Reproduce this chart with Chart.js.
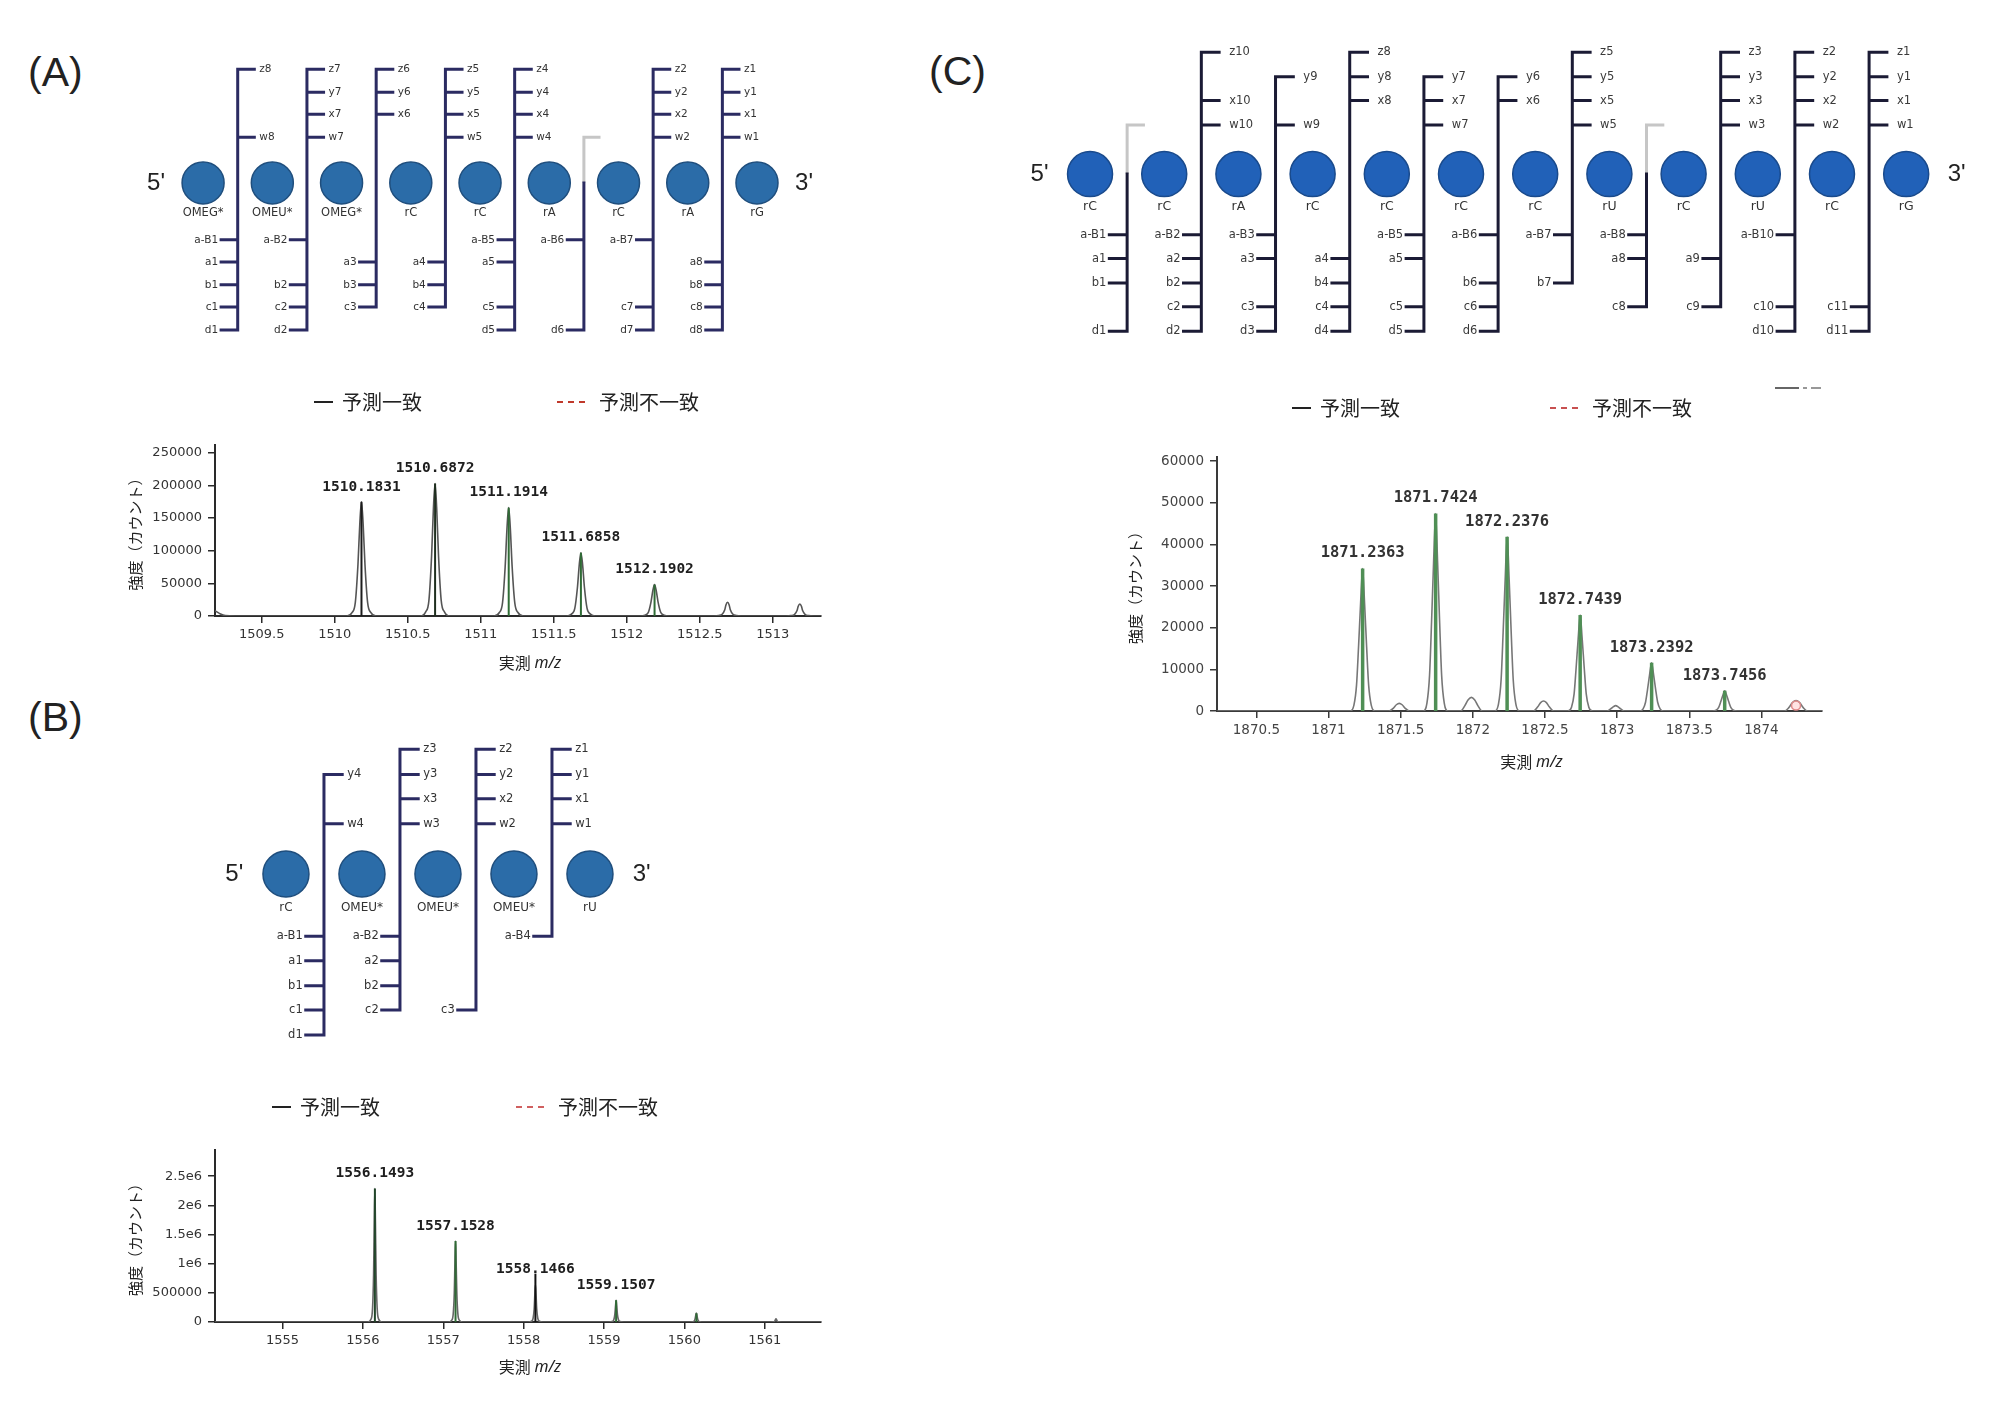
<!DOCTYPE html>
<html>
<head>
<meta charset="utf-8">
<script src="https://cdn.jsdelivr.net/npm/chart.js@4.4.1/dist/chart.umd.min.js"></script>
<style>
  body { margin: 0; background: #fff; width: 2000px; height: 1417px; position: relative; overflow: hidden; }
  canvas { position: absolute; }
  .tag { position: absolute; font: 41px 'Liberation Sans', Arial, sans-serif; color: #222; line-height: 41px; }
</style>
</head>
<body>
<div class="tag" style="left:28px;top:52px">(A)</div>
<div class="tag" style="left:28px;top:697px">(B)</div>
<div class="tag" style="left:929px;top:51px">(C)</div>

<canvas id="mapA" width="727" height="305" style="left:120px;top:45px"></canvas>
<canvas id="specA" width="730" height="300" style="left:100px;top:380px"></canvas>
<canvas id="mapB" width="494" height="334" style="left:195px;top:722px"></canvas>
<canvas id="specB" width="730" height="300" style="left:100px;top:1085px"></canvas>
<canvas id="mapC" width="994" height="326" style="left:1001px;top:26px"></canvas>
<canvas id="specC" width="730" height="400" style="left:1100px;top:385px"></canvas>

<script>
// ---- Fragment maps ----
const residuesA = ['OMEG*', 'OMEU*', 'OMEG*', 'rC', 'rC', 'rA', 'rC', 'rA', 'rG'];
const topIonsA = [['z8', 'w8'], ['z7', 'y7', 'x7', 'w7'], ['z6', 'y6', 'x6'], ['z5', 'y5', 'x5', 'w5'],
  ['z4', 'y4', 'x4', 'w4'], [], ['z2', 'y2', 'x2', 'w2'], ['z1', 'y1', 'x1', 'w1']];
const bottomIonsA = [['a-B1', 'a1', 'b1', 'c1', 'd1'], ['a-B2', 'b2', 'c2', 'd2'], ['a3', 'b3', 'c3'], ['a4', 'b4', 'c4'],
  ['a-B5', 'a5', 'c5', 'd5'], ['a-B6', 'd6'], ['a-B7', 'c7', 'd7'], ['a8', 'b8', 'c8', 'd8']];

const residuesB = ['rC', 'OMEU*', 'OMEU*', 'OMEU*', 'rU'];
const topIonsB = [['y4', 'w4'], ['z3', 'y3', 'x3', 'w3'], ['z2', 'y2', 'x2', 'w2'], ['z1', 'y1', 'x1', 'w1']];
const bottomIonsB = [['a-B1', 'a1', 'b1', 'c1', 'd1'], ['a-B2', 'a2', 'b2', 'c2'], ['c3'], ['a-B4']];

const residuesC = ['rC', 'rC', 'rA', 'rC', 'rC', 'rC', 'rC', 'rU', 'rC', 'rU', 'rC', 'rG'];
const topIonsC = [[], ['z10', 'x10', 'w10'], ['y9', 'w9'], ['z8', 'y8', 'x8'], ['y7', 'x7', 'w7'], ['y6', 'x6'],
  ['z5', 'y5', 'x5', 'w5'], [], ['z3', 'y3', 'x3', 'w3'], ['z2', 'y2', 'x2', 'w2'], ['z1', 'y1', 'x1', 'w1']];
const bottomIonsC = [['a-B1', 'a1', 'b1', 'd1'], ['a-B2', 'a2', 'b2', 'c2', 'd2'], ['a-B3', 'a3', 'c3', 'd3'],
  ['a4', 'b4', 'c4', 'd4'], ['a-B5', 'a5', 'c5', 'd5'], ['a-B6', 'b6', 'c6', 'd6'], ['a-B7', 'b7'],
  ['a-B8', 'a8', 'c8'], ['a9', 'c9'], ['a-B10', 'c10', 'd10'], ['c11', 'd11']];

// ---- Spectra ----
const legendText = ['予測一致', '予測不一致'];
const xTitle = ['実測 ', 'm/z'];
const yTitle = '強度（カウント）';

const xTicksA = [1509.5, 1510, 1510.5, 1511, 1511.5, 1512, 1512.5, 1513];
const yTicksA = [0, 50000, 100000, 150000, 200000, 250000];
const peakLabelsA = ['1510.1831', '1510.6872', '1511.1914', '1511.6858', '1512.1902'];
const peakTopsA = [175000, 203000, 166000, 97000, 48000];
const stickMzA = [1510.1831, 1510.6872, 1511.1914, 1511.6858, 1512.1902];
const stickHA = [175000, 203000, 166000, 97000, 48000];
const stickColorA = ['#1c1c1c', '#1f2f1f', '#2f6b35', '#2f6b35', '#2f6b35'];
const profileA = [
  [1509.18, 8000], [1509.21, 4000], [1509.25, 600], [1509.32, 0],
  [1510.083, 0], [1510.118, 5000], [1510.141, 21000], [1510.159, 79000], [1510.172, 143000], [1510.183, 175000], [1510.194, 143000], [1510.207, 79000], [1510.225, 21000], [1510.248, 5000], [1510.283, 0],
  [1510.587, 0], [1510.622, 6000], [1510.645, 24000], [1510.663, 91000], [1510.676, 166000], [1510.687, 203000], [1510.698, 166000], [1510.711, 91000], [1510.729, 24000], [1510.752, 6000], [1510.787, 0],
  [1511.091, 0], [1511.126, 5000], [1511.149, 20000], [1511.167, 75000], [1511.180, 136000], [1511.191, 166000], [1511.202, 136000], [1511.215, 75000], [1511.233, 20000], [1511.256, 5000], [1511.291, 0],
  [1511.586, 0], [1511.621, 2900], [1511.644, 11600], [1511.662, 43600], [1511.675, 79500], [1511.686, 97000], [1511.697, 79500], [1511.710, 43600], [1511.728, 11600], [1511.751, 2900], [1511.786, 0],
  [1512.090, 0], [1512.125, 1400], [1512.148, 5800], [1512.166, 21600], [1512.179, 39400], [1512.190, 48000], [1512.201, 39400], [1512.214, 21600], [1512.232, 5800], [1512.255, 1400], [1512.290, 0],
  [1512.595, 0], [1512.630, 700], [1512.653, 2600], [1512.671, 9500], [1512.679, 17000], [1512.690, 21000], [1512.701, 17000], [1512.709, 9500], [1512.727, 2600], [1512.750, 700], [1512.785, 0],
  [1513.090, 0], [1513.125, 600], [1513.148, 2200], [1513.166, 8300], [1513.174, 15000], [1513.185, 18500], [1513.196, 15000], [1513.204, 8300], [1513.222, 2200], [1513.245, 600], [1513.280, 0],
  [1513.33, 0]
];

const xTicksB = [1555, 1556, 1557, 1558, 1559, 1560, 1561];
const yTicksB = [0, 500000, 1000000, 1500000, 2000000, 2500000];
const yTickTextB = ['0', '500000', '1e6', '1.5e6', '2e6', '2.5e6'];
const peakLabelsB = ['1556.1493', '1557.1528', '1558.1466', '1559.1507'];
const peakTopsB = [2290000, 1390000, 640000, 374000];
const stickMzB = [1556.1493, 1557.1528, 1558.1466, 1559.1507, 1560.15];
const stickHB = [2290000, 1390000, 830000, 374000, 150000];
const stickColorB = ['#22462a', '#2f6b35', '#111111', '#2f6b35', '#2f6b35'];
const profileB = [
  [1554.16, 0],
  [1556.06, 0], [1556.10, 46000], [1556.12, 230000], [1556.133, 800000], [1556.142, 1720000], [1556.149, 2290000], [1556.156, 1720000], [1556.165, 800000], [1556.178, 230000], [1556.198, 46000], [1556.24, 0],
  [1557.064, 0], [1557.104, 28000], [1557.124, 140000], [1557.137, 490000], [1557.146, 1040000], [1557.153, 1390000], [1557.160, 1040000], [1557.169, 490000], [1557.182, 140000], [1557.202, 28000], [1557.244, 0],
  [1558.058, 0], [1558.098, 13000], [1558.118, 64000], [1558.131, 224000], [1558.140, 480000], [1558.147, 640000], [1558.154, 480000], [1558.163, 224000], [1558.176, 64000], [1558.196, 13000], [1558.238, 0],
  [1559.062, 0], [1559.102, 7500], [1559.122, 37000], [1559.135, 131000], [1559.144, 280000], [1559.151, 374000], [1559.158, 280000], [1559.167, 131000], [1559.180, 37000], [1559.200, 7500], [1559.242, 0],
  [1560.06, 0], [1560.10, 3000], [1560.12, 15000], [1560.133, 54000], [1560.142, 116000], [1560.149, 155000], [1560.156, 116000], [1560.165, 54000], [1560.178, 15000], [1560.198, 3000], [1560.24, 0],
  [1561.07, 0], [1561.11, 3000], [1561.125, 15000], [1561.135, 45000], [1561.14, 57000], [1561.145, 45000], [1561.155, 15000], [1561.17, 3000], [1561.21, 0],
  [1561.7, 0]
];

const xTicksC = [1870.5, 1871, 1871.5, 1872, 1872.5, 1873, 1873.5, 1874];
const yTicksC = [0, 10000, 20000, 30000, 40000, 50000, 60000];
const peakLabelsC = ['1871.2363', '1871.7424', '1872.2376', '1872.7439', '1873.2392', '1873.7456'];
const peakTopsC = [34240, 47440, 41840, 23040, 11600, 4880];
const stickMzC = [1871.2363, 1871.7424, 1872.2376, 1872.7439, 1873.2392, 1873.7456];
const stickHC = [34240, 47440, 41840, 23040, 11600, 4880];
const stickColorC = ['#4f8f55', '#4f8f55', '#4f8f55', '#4f8f55', '#4f8f55', '#4f8f55'];
const mismatchC = [[1874.24, 1300]];
const profileC = [
  [1870.23, 0],
  [1871.151, 0], [1871.176, 1400], [1871.194, 6200], [1871.208, 15400], [1871.222, 25700], [1871.236, 34240], [1871.250, 25700], [1871.264, 15400], [1871.278, 6200], [1871.296, 1400], [1871.321, 0],
  [1871.42, 0], [1871.45, 700], [1871.47, 1500], [1871.49, 1840], [1871.51, 1500], [1871.53, 700], [1871.56, 0],
  [1871.657, 0], [1871.682, 1900], [1871.700, 8500], [1871.714, 21300], [1871.728, 35600], [1871.742, 47440], [1871.756, 35600], [1871.770, 21300], [1871.784, 8500], [1871.802, 1900], [1871.827, 0],
  [1871.915, 0], [1871.945, 1300], [1871.968, 2700], [1871.99, 3280], [1872.012, 2700], [1872.035, 1300], [1872.065, 0],
  [1872.153, 0], [1872.178, 1700], [1872.196, 7500], [1872.210, 18800], [1872.224, 31400], [1872.238, 41840], [1872.252, 31400], [1872.266, 18800], [1872.280, 7500], [1872.298, 1700], [1872.323, 0],
  [1872.42, 0], [1872.45, 1000], [1872.47, 2000], [1872.49, 2400], [1872.51, 2000], [1872.53, 1000], [1872.56, 0],
  [1872.659, 0], [1872.684, 900], [1872.702, 4100], [1872.716, 10400], [1872.730, 17300], [1872.744, 23040], [1872.758, 17300], [1872.772, 10400], [1872.786, 4100], [1872.804, 900], [1872.829, 0],
  [1872.93, 0], [1872.955, 500], [1872.975, 1050], [1872.99, 1280], [1873.005, 1050], [1873.025, 500], [1873.05, 0],
  [1873.154, 0], [1873.179, 460], [1873.197, 2100], [1873.211, 5200], [1873.225, 8700], [1873.239, 11600], [1873.253, 8700], [1873.267, 5200], [1873.281, 2100], [1873.299, 460], [1873.324, 0],
  [1873.661, 0], [1873.686, 200], [1873.704, 880], [1873.718, 2200], [1873.732, 3660], [1873.746, 4880], [1873.760, 3660], [1873.774, 2200], [1873.788, 880], [1873.806, 200], [1873.831, 0],
  [1874.16, 0], [1874.19, 800], [1874.215, 2000], [1874.24, 2480], [1874.265, 2000], [1874.29, 800], [1874.32, 0],
  [1874.42, 0]
];

// Row offsets of the ladder ticks, in residue spacings from the base line
const ROW = { z: -1.64, y: -1.31, x: -0.99, w: -0.66, aB: 0.82, a: 1.14, b: 1.47, c: 1.79, d: 2.12 };
const NAME_ROW = 0.44;
const TICK = 0.24;

function rowOf(ion) {
  return ion.startsWith('a-B') ? ROW.aB : ROW[ion[0]];
}

function ladderSegments(topIons, bottomIons) {
  const dark = [], gray = [];
  topIons.forEach((top, k) => {
    const vx = k + 1.5;
    const bottom = bottomIons[k];
    const low = Math.max(...bottom.map(rowOf));
    const high = top.length ? Math.min(...top.map(rowOf)) : 0;
    dark.push({ x: vx, y: high }, { x: vx, y: low }, { x: vx, y: null });
    top.forEach(ion => dark.push({ x: vx, y: rowOf(ion) }, { x: vx + TICK, y: rowOf(ion) }, { x: vx, y: null }));
    bottom.forEach(ion => dark.push({ x: vx - TICK, y: rowOf(ion) }, { x: vx, y: rowOf(ion) }, { x: vx, y: null }));
    if (!top.length) gray.push({ x: vx + TICK, y: ROW.w }, { x: vx, y: ROW.w }, { x: vx, y: 0 }, { x: vx, y: null });
  });
  return { dark, gray };
}

const mapText = {
  id: 'mapText',
  afterDatasetsDraw(chart, args, o) {
    const { ctx, scales: { x, y } } = chart;
    ctx.save();
    ctx.textBaseline = 'middle';
    ctx.fillStyle = '#333';
    ctx.textAlign = 'center';
    ctx.font = o.nameFont;
    o.residues.forEach((r, i) => ctx.fillText(r, x.getPixelForValue(i + 1), y.getPixelForValue(NAME_ROW)));
    ctx.font = "24px 'Liberation Sans', Arial, sans-serif";
    ctx.fillStyle = '#222';
    ctx.fillText("5'", x.getPixelForValue(0.32), y.getPixelForValue(0));
    ctx.fillText("3'", x.getPixelForValue(o.residues.length + 0.68), y.getPixelForValue(0));
    ctx.font = o.ionFont;
    ctx.fillStyle = o.ionColor;
    o.top.forEach((ions, k) => ions.forEach(ion => {
      ctx.textAlign = 'left';
      ctx.fillText(ion, x.getPixelForValue(k + 1.5 + TICK) + o.gap, y.getPixelForValue(rowOf(ion)));
    }));
    o.bottom.forEach((ions, k) => ions.forEach(ion => {
      ctx.textAlign = 'right';
      ctx.fillText(ion, x.getPixelForValue(k + 1.5 - TICK) - 3, y.getPixelForValue(rowOf(ion)));
    }));
    ctx.restore();
  }
};

function drawMap(id, cfg) {
  const seg = ladderSegments(cfg.top, cfg.bottom);
  return new Chart(document.getElementById(id), {
    type: 'scatter',
    data: {
      datasets: [
        {
          data: cfg.residues.map((r, i) => ({ x: i + 1, y: 0 })),
          pointRadius: cfg.radius, backgroundColor: cfg.fill, borderColor: cfg.edge, borderWidth: 1.5
        },
        { data: seg.dark, showLine: true, pointRadius: 0, borderColor: cfg.line, borderWidth: 3, borderCapStyle: 'square', spanGaps: false },
        { data: seg.gray, showLine: true, pointRadius: 0, borderColor: '#c6c6c6', borderWidth: 3, borderJoinStyle: 'miter', spanGaps: false }
      ]
    },
    options: {
      animation: false, responsive: false, events: [],
      layout: { padding: 0, autoPadding: false },
      plugins: {
        legend: { display: false }, tooltip: { enabled: false },
        mapText: { residues: cfg.residues, top: cfg.top, bottom: cfg.bottom, nameFont: cfg.nameFont, ionFont: cfg.ionFont, ionColor: cfg.ionColor, gap: cfg.gap }
      },
      scales: {
        x: { type: 'linear', display: false, min: cfg.xr[0], max: cfg.xr[1] },
        y: { type: 'linear', display: false, reverse: true, min: cfg.yr[0], max: cfg.yr[1] }
      }
    },
    plugins: [mapText]
  });
}

drawMap('mapA', {
  residues: residuesA, top: topIonsA, bottom: bottomIonsA, xr: [-0.2, 10.3], yr: [-1.99, 2.41],
  radius: 21, fill: '#2b6ca8', edge: '#1f4e7d', line: '#2b2b62',
  nameFont: "11.5px 'DejaVu Sans'", ionFont: "10.5px 'DejaVu Sans'", ionColor: '#333', gap: 5
});
drawMap('mapB', {
  residues: residuesB, top: topIonsB, bottom: bottomIonsB, xr: [-0.197, 6.303], yr: [-2.0, 2.395],
  radius: 23, fill: '#2b6ca8', edge: '#1f4e7d', line: '#2b2b62',
  nameFont: "12px 'DejaVu Sans'", ionFont: "11.5px 'DejaVu Sans'", ionColor: '#333', gap: 5
});
drawMap('mapC', {
  residues: residuesC, top: topIonsC, bottom: bottomIonsC, xr: [-0.2, 13.197], yr: [-1.995, 2.399],
  radius: 22.5, fill: '#2161b8', edge: '#194a8c', line: '#1b1b35',
  nameFont: "12.5px 'DejaVu Sans'", ionFont: "11.5px 'DejaVu Sans'", ionColor: '#3a3a3a', gap: 10
});

// ---- Spectrum annotations: peak labels, x title, legend ----
const specText = {
  id: 'specText',
  afterDatasetsDraw(chart, args, o) {
    const { ctx, chartArea: ca, scales: { x, y } } = chart;
    ctx.save();
    ctx.textBaseline = 'middle';
    ctx.textAlign = 'center';
    ctx.font = o.labelFont;
    ctx.fillStyle = o.labelColor;
    o.labels.forEach((t, i) => ctx.fillText(t, x.getPixelForValue(parseFloat(t)), y.getPixelForValue(o.tops[i]) - 15));

    // x axis title with italic m/z
    ctx.fillStyle = '#222';
    ctx.textAlign = 'left';
    const f1 = "16px 'Noto Sans CJK JP'", f2 = "italic 16px 'Noto Sans'";
    ctx.font = f1; const w1 = ctx.measureText(xTitle[0]).width;
    ctx.font = f2; const w2 = ctx.measureText(xTitle[1]).width;
    const tx = (ca.left + ca.right) / 2 + 12 - (w1 + w2) / 2, ty = ca.bottom + o.titleDy;
    ctx.font = f1; ctx.fillText(xTitle[0], tx, ty);
    ctx.font = f2; ctx.fillText(xTitle[1], tx + w1, ty);

    // legend
    const ly = ca.top + o.legendDy;
    const l1 = ca.left + o.legendX[0], l2 = ca.left + o.legendX[1];
    ctx.lineWidth = 2;
    ctx.strokeStyle = '#222';
    ctx.beginPath(); ctx.moveTo(l1, ly); ctx.lineTo(l1 + 19, ly); ctx.stroke();
    ctx.setLineDash([6, 5]);
    ctx.strokeStyle = o.redColor;
    ctx.beginPath(); ctx.moveTo(l2, ly); ctx.lineTo(l2 + 32, ly); ctx.stroke();
    ctx.setLineDash([]);
    ctx.font = "20px 'Noto Sans CJK JP'";
    ctx.fillStyle = '#222';
    ctx.fillText(legendText[0], l1 + 28, ly);
    ctx.fillText(legendText[1], l2 + 42, ly);

    // leftover legend fragment at the top right of panel C
    if (o.stray) {
      const sx = ca.left + o.stray[0], sy = ca.top + o.stray[1];
      ctx.lineWidth = 1.5;
      ctx.strokeStyle = '#333';
      ctx.beginPath(); ctx.moveTo(sx, sy); ctx.lineTo(sx + 24, sy); ctx.stroke();
      ctx.strokeStyle = '#777';
      ctx.beginPath(); ctx.moveTo(sx + 28, sy); ctx.lineTo(sx + 32, sy); ctx.moveTo(sx + 36, sy); ctx.lineTo(sx + 46, sy); ctx.stroke();
    }
    ctx.restore();
  }
};

function drawSpectrum(id, cfg) {
  const sticks = cfg.stickMz.map((m, i) => ({
    data: [{ x: m, y: 0 }, { x: m, y: cfg.stickH[i] }],
    showLine: true, pointRadius: 0, borderColor: cfg.stickColor[i], borderWidth: cfg.stickWidth, order: 1
  }));
  const datasets = [
    ...sticks,
    {
      data: cfg.profile.map(p => ({ x: p[0], y: p[1] })),
      showLine: true, pointRadius: 0, borderColor: cfg.profileColor, borderWidth: 1.6,
      cubicInterpolationMode: 'monotone', order: 2
    }
  ];
  if (cfg.mismatch) {
    datasets.push({
      data: cfg.mismatch.map(p => ({ x: p[0], y: p[1] })),
      pointRadius: 4.5, pointBackgroundColor: 'rgba(255,200,200,0.5)', pointBorderColor: '#e08a8a', pointBorderWidth: 1.5, order: 0
    });
  }
  const tickFont = { family: 'DejaVu Sans', size: cfg.tickSize };
  const yLabel = v => {
    if (!cfg.yTickText) return String(v);
    const i = cfg.yTicks.indexOf(v);
    return i < 0 ? '' : cfg.yTickText[i];
  };
  return new Chart(document.getElementById(id), {
    type: 'scatter',
    data: { datasets },
    options: {
      animation: false, responsive: false, events: [],
      layout: { padding: cfg.pad, autoPadding: false },
      plugins: {
        legend: { display: false }, tooltip: { enabled: false },
        specText: {
          labels: cfg.labels, tops: cfg.tops, labelFont: cfg.labelFont, labelColor: cfg.labelColor,
          titleDy: cfg.titleDy, legendDy: cfg.legendDy, legendX: cfg.legendX, redColor: cfg.redColor, stray: cfg.stray
        }
      },
      scales: {
        x: {
          type: 'linear', min: cfg.xr[0], max: cfg.xr[1],
          afterBuildTicks: axis => { axis.ticks = cfg.xTicks.map(v => ({ value: v })); },
          afterFit: s => { s.height = cfg.xAxisH; },
          ticks: { includeBounds: false, maxRotation: 0, autoSkip: false, padding: 4, color: cfg.tickColor, font: tickFont, callback: v => String(v) },
          grid: { drawOnChartArea: false, tickLength: 7, color: cfg.axisColor, lineWidth: 1.5 },
          border: { color: cfg.axisColor, width: 2 }
        },
        y: {
          type: 'linear', min: 0, max: cfg.yMax,
          afterBuildTicks: axis => { axis.ticks = cfg.yTicks.map(v => ({ value: v })); },
          afterFit: s => { s.width = cfg.yAxisW; },
          ticks: { includeBounds: false, autoSkip: false, padding: 6, color: cfg.tickColor, font: tickFont, callback: yLabel },
          grid: { drawOnChartArea: false, tickLength: 7, color: cfg.axisColor, lineWidth: 1.5 },
          border: { color: cfg.axisColor, width: 2 },
          title: { display: true, text: yTitle, color: '#222', font: { family: 'Noto Sans CJK JP', size: 15 }, padding: { top: 4, bottom: 4 } }
        }
      }
    },
    plugins: [specText]
  });
}

drawSpectrum('specA', {
  profile: profileA, stickMz: stickMzA, stickH: stickHA, stickColor: stickColorA, stickWidth: 2,
  labels: peakLabelsA, tops: peakTopsA, labelFont: "bold 14.5px 'DejaVu Sans Mono'", labelColor: '#1e1e1e',
  xr: [1509.18, 1513.33], xTicks: xTicksA, yMax: 262000, yTicks: yTicksA,
  pad: { left: 22, right: 9, top: 65, bottom: 0 }, xAxisH: 64, yAxisW: 93,
  tickSize: 13, tickColor: '#333', axisColor: '#2a2a2a', profileColor: '#555',
  titleDy: 47, legendDy: -43, legendX: [99, 342], redColor: '#c0392b'
});
drawSpectrum('specB', {
  profile: profileB, stickMz: stickMzB, stickH: stickHB, stickColor: stickColorB, stickWidth: 2,
  labels: peakLabelsB, tops: peakTopsB, labelFont: "bold 14.5px 'DejaVu Sans Mono'", labelColor: '#1e1e1e',
  xr: [1554.16, 1561.7], xTicks: xTicksB, yMax: 2950000, yTicks: yTicksB, yTickText: yTickTextB,
  pad: { left: 22, right: 9, top: 65, bottom: 0 }, xAxisH: 63, yAxisW: 93,
  tickSize: 13, tickColor: '#333', axisColor: '#2a2a2a', profileColor: '#666',
  titleDy: 45, legendDy: -43, legendX: [57, 301], redColor: '#d06060'
});
drawSpectrum('specC', {
  profile: profileC, stickMz: stickMzC, stickH: stickHC, stickColor: stickColorC, stickWidth: 3.5, mismatch: mismatchC,
  labels: peakLabelsC, tops: peakTopsC, labelFont: "bold 15.5px 'DejaVu Sans Mono'", labelColor: '#333',
  xr: [1870.227, 1874.42], xTicks: xTicksC, yMax: 61000, yTicks: yTicksC,
  pad: { left: 22, right: 8, top: 72, bottom: 0 }, xAxisH: 74, yAxisW: 95,
  tickSize: 13.5, tickColor: '#444', axisColor: '#3a3a3a', profileColor: '#777',
  titleDy: 51, legendDy: -49, legendX: [75, 333], redColor: '#c85050', stray: [558, -69]
});
</script>
</body>
</html>
